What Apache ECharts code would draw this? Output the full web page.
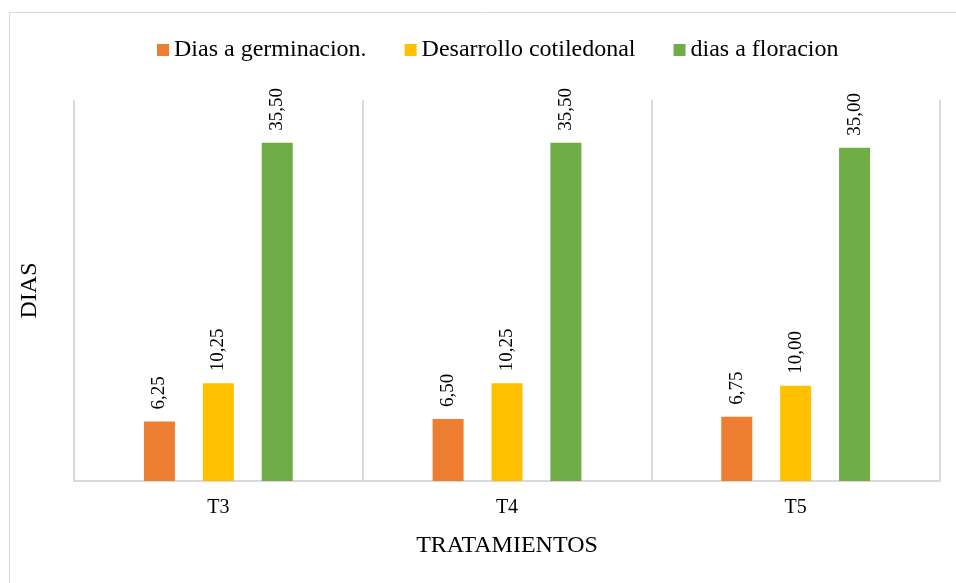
<!DOCTYPE html>
<html>
<head>
<meta charset="utf-8">
<script src="https://cdn.jsdelivr.net/npm/echarts@6/dist/echarts.min.js"></script>
<style>
  html, body { margin: 0; padding: 0; background: #fff; }
  #chart { width: 956px; height: 583px; }
</style>
</head>
<body>
<div id="chart"></div>
<script>
const categories = ['T3', 'T4', 'T5'];
const germinacion = [6.25, 6.5, 6.75];
const cotiledonal = [10.25, 10.25, 10.0];
const floracion = [35.5, 35.5, 35.0];

const seriesNames = ['Dias a germinacion.', 'Desarrollo cotiledonal', 'dias a floracion'];
const seriesColors = ['#ED7D31', '#FFC000', '#70AD47'];
const font = '"Liberation Serif", "Times New Roman", serif';

function makeSeries(name, data, color) {
  return {
    name,
    type: 'bar',
    data,
    barWidth: 31,
    barGap: '90%',
    itemStyle: { color },
    label: {
      show: true,
      position: 'top',
      rotate: 90,
      align: 'left',
      verticalAlign: 'middle',
      distance: 12,
      color: '#000',
      fontFamily: font,
      fontSize: 19,
      formatter: ({ value }) => value.toFixed(2).replace('.', ','),
    },
  };
}

const chart = echarts.init(document.getElementById('chart'));
chart.setOption({
  backgroundColor: '#fff',
  animation: false,
  graphic: [
    {
      type: 'rect',
      shape: { x: 9.5, y: 12.5, width: 980, height: 620 },
      style: { fill: 'none', stroke: '#d9d9d9', lineWidth: 1 },
      silent: true,
      z: -1,
    },
  ],
  legend: {
    top: 33,
    left: 152,
    itemWidth: 12,
    itemHeight: 12,
    itemGap: 38,
    icon: 'rect',
    textStyle: { fontFamily: font, fontSize: 24, color: '#000' },
  },
  grid: { left: 74, right: 16, top: 100, bottom: 102, containLabel: false },
  xAxis: {
    type: 'category',
    data: categories,
    name: 'TRATAMIENTOS',
    nameLocation: 'middle',
    nameGap: 53,
    nameTextStyle: { fontFamily: font, fontSize: 24, color: '#000' },
    axisLine: { lineStyle: { color: '#d9d9d9', width: 2 } },
    axisTick: { show: false },
    axisLabel: { fontFamily: font, fontSize: 20, color: '#000', margin: 17 },
    splitLine: { show: true, interval: 0, lineStyle: { color: '#d9d9d9', width: 2 } },
  },
  yAxis: {
    type: 'value',
    min: 0,
    max: 40,
    name: 'DIAS',
    nameLocation: 'middle',
    nameGap: 32,
    nameTextStyle: { fontFamily: font, fontSize: 24, color: '#000' },
    axisLine: { show: false },
    axisTick: { show: false },
    axisLabel: { show: false },
    splitLine: { show: false },
  },
  series: [
    makeSeries(seriesNames[0], germinacion, seriesColors[0]),
    makeSeries(seriesNames[1], cotiledonal, seriesColors[1]),
    makeSeries(seriesNames[2], floracion, seriesColors[2]),
  ],
});
</script>
</body>
</html>
